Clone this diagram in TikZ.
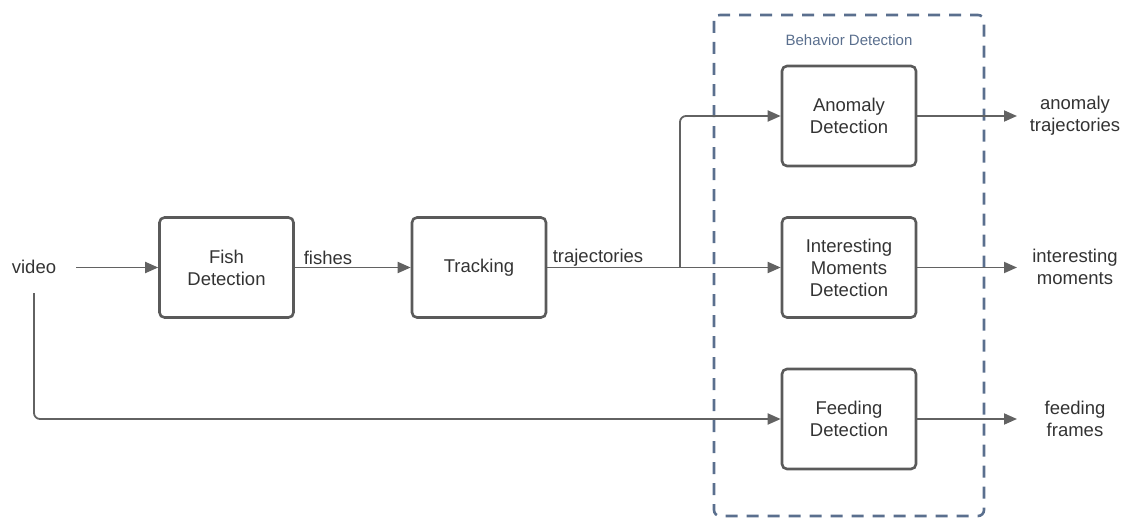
\documentclass[tikz,border=0pt]{standalone}
\usepackage{fontspec}
\setmainfont{Liberation Sans}
\usetikzlibrary{arrows.meta}
\definecolor{boxline}{HTML}{5A5A5A}
\definecolor{conn}{HTML}{626262}
\definecolor{txt}{HTML}{333333}
\definecolor{dashc}{HTML}{5A6F8E}
\tikzset{
  x=1pt,y=-1pt,
  procbox/.style={draw=boxline,line width=2.6pt,rounded corners=5pt,minimum width=134pt,minimum height=100pt,align=center,text=txt,font=\fontsize{18.5}{22}\selectfont,inner sep=0pt},
  lbl/.style={text=txt,font=\fontsize{18.5}{22}\selectfont,align=center,inner sep=0pt},
  conn/.style={draw=conn,line width=1.8pt,-{Triangle[length=13pt,width=11pt]}},
  plain/.style={draw=conn,line width=1.8pt},
}
\begin{document}
\begin{tikzpicture}
\useasboundingbox (0,0) rectangle (1127,519);
% dashed group
\draw[dashc,line width=2.6pt,dash pattern=on 12pt off 9pt,rounded corners=6pt] (714,15) rectangle (984,516);
\node[text=dashc,font=\fontsize{15}{18}\selectfont,inner sep=0pt] (grp) at (849,40) {Behavior Detection};

\node[procbox] (fish) at (226.5,267.5) {Fish\\Detection};
\node[procbox] (track) at (479,267.5) {Tracking};
\node[procbox] (anom) at (849,116) {Anomaly\\Detection};
\node[procbox] (inter) at (849,267.5) {Interesting\\Moments\\Detection};
\node[procbox] (feed) at (849,419) {Feeding\\Detection};

\node[lbl] (video) at (34,267) {video};
\node[lbl] (fishes) at (328,258) {fishes};
\node[lbl] (traj) at (598,258) {trajectories};
\node[lbl] (oa) at (1075,116) {anomaly\\trajectories};
\node[lbl] (oi) at (1075,267) {interesting\\moments};
\node[lbl] (of) at (1075,419) {feeding\\frames};

\coordinate (vs) at (76,267.5);
\coordinate (vd) at (34,293);
\coordinate (br) at (680,267.5);
\coordinate (ea) at (1017,116);
\coordinate (ei) at (1017,267.5);
\coordinate (ef) at (1017,419);

\draw[conn] (vs) -- (fish.west);
\draw[conn] (fish.east) -- (track.west);
\draw[conn] (track.east) -- (inter.west);
\draw[conn,rounded corners=6pt] (br) |- (anom.west);
\draw[conn,rounded corners=6pt] (vd) |- (feed.west);
\draw[conn] (anom.east) -- (ea);
\draw[conn] (inter.east) -- (ei);
\draw[conn] (feed.east) -- (ef);
\end{tikzpicture}
\end{document}
